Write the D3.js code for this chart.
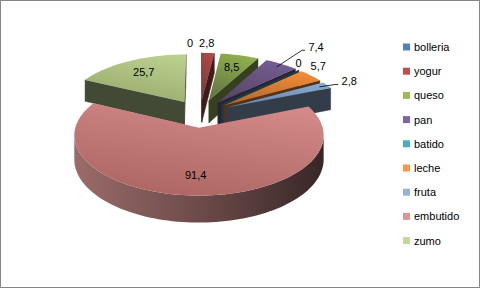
<!DOCTYPE html>
<html>
<head>
<meta charset="utf-8">
<script src="https://cdn.jsdelivr.net/npm/d3@7"></script>
<style>
  body { margin: 0; background: #fff; }
  svg { display: block; }
  text { font-family: "Liberation Sans", Arial, sans-serif; font-size: 11px; fill: #000; }
</style>
</head>
<body>
<div id="chart"></div>
<script>
var categories = ['bolleria', 'yogur', 'queso', 'pan', 'batido', 'leche', 'fruta', 'embutido', 'zumo']
var values = [0, 2.8, 8.5, 7.4, 0, 5.7, 2.8, 91.4, 25.7]
var colors = ['#4F81BD', '#C0504D', '#9BBB59', '#8064A2', '#4BACC6', '#F79646', '#95B3D7', '#D99694', '#C3D69B']

// label nudges (px) for the outside labels, and which ones get a leader line
var labelNudge = { bolleria: [-10, -4], yogur: [-2, -4], pan: [26, -12], batido: [-11, -2], leche: [-5, -5], fruta: [8, -1] }
var leaders = ['pan', 'fruta']

var width = 481
var height = 289

var svg = d3
  .select('#chart')
  .append('svg')
  .attr('width', width)
  .attr('height', height)

svg
  .append('rect')
  .attr('x', 0.5)
  .attr('y', 0.5)
  .attr('width', 479)
  .attr('height', 287)
  .attr('fill', '#fff')
  .attr('stroke', '#868686')

var defs = svg.append('defs')

// fake 3d: pie lies flat, y goes to the back, z is up (0 bottom, 1 top)
var cx = 200
var cy = 113.5
var radius = 120
var thick = 23
var explode = 30
var tilt = 0.465
var persp = 0.001

function project(x, y, z) {
  var s = 1 / (1 + persp * y)
  return [cx + x * s, cy - tilt * y * s + (1 - z) * thick * s]
}

var colorScale = d3.scaleOrdinal().domain(categories).range(colors)
var fmt = v => String(v).replace('.', ',')

var pie = d3
  .pie()
  .sort(null)
  .value(d => d)

var slices = pie(values).map(function(d, i) {
  var mid = (d.startAngle + d.endAngle) / 2
  var ox = explode * Math.sin(mid)
  var oy = explode * Math.cos(mid)
  return {
    name: categories[i],
    value: values[i],
    a0: d.startAngle,
    a1: d.endAngle,
    mid: mid,
    ox: ox,
    oy: oy,
    order: oy + (radius / 2) * Math.cos(mid)
  }
})

function area(pts) {
  var s = 0
  for (var i = 0; i < pts.length; i++) {
    var p = pts[i]
    var q = pts[(i + 1) % pts.length]
    s += p[0] * q[1] - q[0] * p[1]
  }
  return s
}

var line = d3.line()

function darken(c, f) {
  return d3.interpolateRgb(c, '#000')(f)
}

// shade in hsl, the way the office lighting looks a bit more saturated
function shade(c, dl, ks) {
  var h = d3.hsl(c)
  h.l -= dl
  h.s *= ks
  return h.formatHex()
}

var pieG = svg.append('g')

slices
  .slice()
  .sort((a, b) => b.order - a.order)
  .forEach(function(sl, idx) {
    var g = pieG.append('g')
    var base = colorScale(sl.name)
    var pt = (r, a, z) => project(sl.ox + r * Math.sin(a), sl.oy + r * Math.cos(a), z)

    // radial cut faces
    var startFace = [pt(0, sl.a0, 1), pt(radius, sl.a0, 1), pt(radius, sl.a0, 0), pt(0, sl.a0, 0)]
    var endFace = [pt(0, sl.a1, 1), pt(0, sl.a1, 0), pt(radius, sl.a1, 0), pt(radius, sl.a1, 1)]
    ;[startFace, endFace].forEach(function(f) {
      if (area(f) < -0.01) {
        g.append('path')
          .attr('d', line(f) + 'Z')
          .attr('fill', darken(base, 0.66))
          .attr('stroke', darken(base, 0.66))
          .attr('stroke-width', 0.5)
      }
    })

    // outer wall, split in small pieces and keep the ones facing us
    var span = sl.a1 - sl.a0
    if (span > 0) {
      var n = Math.max(1, Math.ceil(span / (Math.PI / 90)))
      var runs = []
      var cur = null
      for (var k = 0; k < n; k++) {
        var t0 = sl.a0 + (span * k) / n
        var t1 = sl.a0 + (span * (k + 1)) / n
        var quad = [pt(radius, t0, 1), pt(radius, t1, 1), pt(radius, t1, 0), pt(radius, t0, 0)]
        if (area(quad) < 0) {
          if (!cur) {
            cur = [t0]
            runs.push(cur)
          }
          cur.push(t1)
        } else {
          cur = null
        }
      }
      var gid = 'side' + idx
      var left = project(sl.ox - radius, sl.oy, 0)[0]
      var right = project(sl.ox + radius, sl.oy, 0)[0]
      var grad = defs
        .append('linearGradient')
        .attr('id', gid)
        .attr('gradientUnits', 'userSpaceOnUse')
        .attr('x1', left)
        .attr('x2', right)
        .attr('y1', 0)
        .attr('y2', 0)
      grad.append('stop').attr('offset', 0).attr('stop-color', darken(base, 0.29))
      grad.append('stop').attr('offset', 0.5).attr('stop-color', darken(base, 0.5))
      grad.append('stop').attr('offset', 1).attr('stop-color', darken(base, 0.74))
      runs.forEach(function(run) {
        var top = run.map(a => pt(radius, a, 1))
        var bot = run.map(a => pt(radius, a, 0)).reverse()
        g.append('path')
          .attr('d', line(top.concat(bot)) + 'Z')
          .attr('fill', 'url(#' + gid + ')')
      })

      // top face
      var tid = 'top' + idx
      var tg = defs
        .append('linearGradient')
        .attr('id', tid)
        .attr('x1', 0.7)
        .attr('y1', 0)
        .attr('x2', 0.3)
        .attr('y2', 1)
      tg.append('stop').attr('offset', 0).attr('stop-color', shade(base, 0.04, 0.95))
      tg.append('stop').attr('offset', 1).attr('stop-color', shade(base, 0.18, 0.65))
      var arcPts = d3.range(n + 1).map(k => pt(radius, sl.a0 + (span * k) / n, 1))
      g.append('path')
        .attr('d', line([pt(0, 0, 1)].concat(arcPts)) + 'Z')
        .attr('fill', 'url(#' + tid + ')')
    }
  })

// data labels
var labelG = svg.append('g')
slices.forEach(function(sl) {
  var pt = (r, a) => project(sl.ox + r * Math.sin(a), sl.oy + r * Math.cos(a), 1)
  if (sl.a1 - sl.a0 > (20 * Math.PI) / 180) {
    var p = pt(radius * 0.72, sl.mid)
    labelG
      .append('text')
      .attr('x', p[0])
      .attr('y', p[1] + 4)
      .attr('text-anchor', 'middle')
      .text(fmt(sl.value))
    return
  }
  var nudge = labelNudge[sl.name] || [0, 0]
  var q = pt(radius + 18, sl.mid)
  var lx = q[0] + nudge[0]
  var ly = q[1] + nudge[1]
  if (leaders.indexOf(sl.name) >= 0) {
    var s = pt(radius * 0.92, sl.mid)
    var tw = 16
    var ex = lx - tw / 2 - 3
    labelG
      .append('path')
      .attr('d', line([s, [ex - 3, ly + 3.5], [ex, ly + 3.5]]))
      .attr('fill', 'none')
      .attr('stroke', '#000')
      .attr('stroke-width', 0.8)
  }
  labelG
    .append('text')
    .attr('x', lx)
    .attr('y', ly + 4)
    .attr('text-anchor', 'middle')
    .text(fmt(sl.value))
})

// legend
var legend = svg
  .append('g')
  .selectAll('g')
  .data(categories)
  .enter()
  .append('g')
  .attr('transform', (d, i) => `translate(403, ${47 + i * 24.2})`)

legend
  .append('rect')
  .attr('y', -3.5)
  .attr('width', 7)
  .attr('height', 7)
  .attr('fill', d => colorScale(d))

legend
  .append('text')
  .attr('x', 11)
  .attr('y', 4)
  .text(d => d)
</script>
</body>
</html>
